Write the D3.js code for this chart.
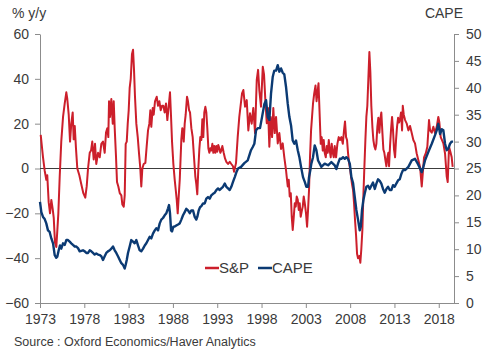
<!DOCTYPE html>
<html>
<head>
<meta charset="utf-8">
<script src="https://cdn.jsdelivr.net/npm/d3@7"></script>
<style>
  html, body { margin: 0; padding: 0; background: #fff; }
  svg { display: block; font-family: "Liberation Sans", Arial, sans-serif; }
</style>
</head>
<body>
<svg id="chart" width="500" height="356"></svg>
<script>
// ---- Data (decimal year, value) ----
const spDates = [1973.08,1973.34,1973.53,1973.71,1973.82,1973.98,1974.13,1974.28,1974.43,1974.55,1974.69,1974.84,1974.95,1975.07,1975.22,1975.40,1975.60,1975.79,1975.97,1976.08,1976.24,1976.39,1976.53,1976.69,1976.80,1976.92,1977.06,1977.21,1977.44,1977.66,1977.89,1978.11,1978.27,1978.42,1978.61,1978.76,1978.90,1979.06,1979.21,1979.35,1979.55,1979.74,1979.92,1980.11,1980.30,1980.45,1980.60,1980.71,1980.79,1980.90,1981.05,1981.21,1981.32,1981.43,1981.58,1981.69,1981.84,1982.00,1982.18,1982.29,1982.45,1982.56,1982.67,1982.79,1982.90,1983.01,1983.12,1983.24,1983.38,1983.50,1983.61,1983.72,1983.87,1984.03,1984.17,1984.32,1984.43,1984.55,1984.70,1984.89,1985.04,1985.19,1985.34,1985.45,1985.56,1985.72,1985.83,1985.98,1986.17,1986.32,1986.47,1986.62,1986.77,1986.92,1987.07,1987.22,1987.37,1987.53,1987.67,1987.79,1987.90,1988.05,1988.20,1988.32,1988.43,1988.54,1988.66,1988.77,1988.95,1989.06,1989.22,1989.33,1989.44,1989.59,1989.70,1989.82,1989.93,1990.08,1990.23,1990.38,1990.53,1990.64,1990.75,1990.87,1990.98,1991.09,1991.21,1991.32,1991.43,1991.54,1991.66,1991.77,1991.88,1992.00,1992.11,1992.22,1992.33,1992.45,1992.56,1992.67,1992.79,1992.90,1993.01,1993.12,1993.24,1993.35,1993.46,1993.58,1993.73,1993.88,1994.03,1994.22,1994.41,1994.59,1994.78,1994.90,1995.01,1995.12,1995.31,1995.49,1995.80,1995.95,1996.14,1996.33,1996.51,1996.70,1996.89,1997.07,1997.27,1997.46,1997.61,1997.75,1997.94,1998.14,1998.28,1998.43,1998.59,1998.73,1998.88,1999.04,1999.19,1999.33,1999.49,1999.64,1999.83,2000.01,2000.20,2000.39,2000.57,2000.77,2000.84,2000.96,2001.07,2001.18,2001.30,2001.41,2001.52,2001.64,2001.75,2001.86,2001.97,2002.09,2002.20,2002.31,2002.42,2002.54,2002.65,2002.76,2002.88,2003.02,2003.14,2003.25,2003.36,2003.47,2003.59,2003.70,2003.81,2003.93,2004.09,2004.21,2004.32,2004.43,2004.55,2004.68,2004.79,2004.91,2005.02,2005.13,2005.25,2005.36,2005.47,2005.59,2005.70,2005.81,2005.92,2006.04,2006.15,2006.26,2006.41,2006.56,2006.71,2006.86,2007.01,2007.17,2007.31,2007.42,2007.54,2007.65,2007.76,2007.88,2007.99,2008.10,2008.21,2008.33,2008.44,2008.55,2008.67,2008.78,2008.89,2009.04,2009.15,2009.26,2009.38,2009.49,2009.60,2009.72,2009.83,2009.94,2010.05,2010.17,2010.28,2010.39,2010.51,2010.62,2010.73,2010.85,2010.96,2011.07,2011.18,2011.30,2011.41,2011.52,2011.64,2011.75,2011.86,2011.97,2012.09,2012.20,2012.31,2012.39,2012.50,2012.61,2012.73,2012.84,2012.95,2013.07,2013.18,2013.29,2013.41,2013.52,2013.63,2013.74,2013.86,2013.94,2014.05,2014.20,2014.39,2014.57,2014.76,2014.95,2015.13,2015.32,2015.51,2015.70,2015.89,2016.08,2016.20,2016.34,2016.53,2016.71,2016.90,2017.02,2017.21,2017.39,2017.58,2017.77,2017.95,2018.06,2018.22,2018.33,2018.52,2018.71,2018.90,2019.01,2019.16,2019.31,2019.46,2019.57];
const spValues = [15,5,-1,-5,-3,-15,-20,-14,-18,-22,-33,-35,-28,-20,-4,12,23,29,34,31,24,12,20,25,13,19,9,0,-3,-7,-11,-13,-8,0,7,8,12,4,11,2,7,5,11,12,7,16,18,14,30,23,31,20,30,18,5,-6,-8,-11,-12,-16,-17,-12,11,12,20,26,36,40,51,53,44,32,20,14,7,0,-8,0,2,2.5,10,17,20,26,18.6,27,24,30,32,28,30,26,28,28,25,29,21.6,28,34,23,12,2,-5,-9.6,-14,-20,-12,-5,13,18,12,20,24,32,30,26,25,18,14,5,-3.6,-7,-11.5,0,8.5,14,12.7,22,14,25,27.5,25,18,9,7,9,8,11,7,10,7,10,7.5,10.5,9,7,8,10,7,4.5,3,2,3,2,1,-1.5,0.5,2.4,14,23,33.5,35,27.6,30.5,17,24.6,20,27,15.8,39.5,44,35,27.6,45.4,42,30.5,20.2,27,9.7,23,14,27,15.8,23,11.2,15.8,8.7,11.2,5,-1,-3.6,-8,-5,-12.5,-11,-21.5,-27.4,-21.5,-15.5,-17,-12.5,-14,-18.5,-15.5,-21.5,-19,-17,-12.5,-15.5,-20,-26,-18.5,-9.6,5,17,23,29,33,37,30,34,38,25,11,14,8,12.7,7,5,10,7,12.7,8,5,11,7,5,10,5,11,14,12.7,14,11,17,21,14,12.7,7,2.4,0,-3.6,-7,-9.6,-15.5,-23,-30,-38,-40,-39,-42,-36,-27.4,-12.5,0,12.7,23,28,39.5,52,43,28,18.6,12.7,10,8.5,11,18.6,22.6,16,22,25,16,8.5,7,4,1,5,7,1,10,17,23,17,8.5,5,12.7,18.6,22.6,20.5,22,25,17,28,24,21.6,20,17,19,15.8,12.7,11.2,6.7,3.7,0.7,-8,-2,5,6.7,9.7,21.6,17,16,18.6,15.8,18.6,23,20.8,14,13,11.2,6.7,-3.6,-6,9.7,7.5,5,0.7];

const capeDates = [1973.00,1973.15,1973.34,1973.53,1973.71,1973.90,1974.09,1974.28,1974.47,1974.66,1974.84,1974.95,1975.11,1975.26,1975.40,1975.60,1975.79,1975.97,1976.16,1976.35,1976.53,1976.72,1976.92,1977.10,1977.29,1977.48,1977.66,1977.85,1978.05,1978.23,1978.42,1978.61,1978.79,1978.98,1979.17,1979.35,1979.55,1979.74,1979.92,1980.11,1980.30,1980.48,1980.67,1980.87,1981.05,1981.24,1981.43,1981.61,1981.80,1982.00,1982.18,1982.37,1982.56,1982.67,1982.79,1982.93,1983.12,1983.30,1983.50,1983.69,1983.87,1984.06,1984.25,1984.43,1984.63,1984.82,1985.00,1985.19,1985.38,1985.56,1985.75,1985.95,1986.13,1986.32,1986.51,1986.69,1986.88,1987.07,1987.26,1987.45,1987.56,1987.67,1987.79,1987.90,1988.05,1988.20,1988.38,1988.58,1988.77,1988.95,1989.14,1989.33,1989.51,1989.70,1989.90,1990.08,1990.27,1990.46,1990.64,1990.75,1990.91,1991.06,1991.21,1991.40,1991.59,1991.77,1991.96,1992.15,1992.33,1992.53,1992.72,1992.90,1993.09,1993.28,1993.46,1993.65,1993.85,1994.03,1994.22,1994.41,1994.59,1994.78,1994.98,1995.16,1995.35,1995.69,1996.06,1996.44,1996.81,1997.01,1997.19,1997.38,1997.57,1997.83,1998.06,1998.32,1998.51,1998.70,1998.88,1999.07,1999.26,1999.44,1999.64,1999.83,2000.01,2000.20,2000.39,2000.57,2000.77,2000.96,2001.14,2001.33,2001.52,2001.70,2001.89,2002.09,2002.26,2002.46,2002.68,2002.88,2003.06,2003.25,2003.36,2003.51,2003.62,2003.81,2004.00,2004.19,2004.38,2004.57,2004.75,2005.13,2005.51,2005.88,2006.26,2006.44,2006.63,2006.83,2007.01,2007.20,2007.39,2007.57,2007.76,2007.96,2008.14,2008.33,2008.52,2008.70,2008.89,2009.08,2009.20,2009.34,2009.49,2009.65,2009.83,2010.02,2010.21,2010.39,2010.58,2010.78,2010.96,2011.15,2011.34,2011.52,2011.71,2011.90,2012.09,2012.28,2012.47,2012.65,2012.84,2013.03,2013.21,2013.41,2013.60,2013.78,2013.97,2014.20,2014.57,2014.95,2015.32,2015.63,2015.89,2016.08,2016.26,2016.45,2016.83,2017.21,2017.58,2017.77,2017.95,2018.15,2018.34,2018.52,2018.71,2018.90,2019.08,2019.27,2019.46,2019.62];
const capeValues = [18.8,16.9,16.0,15.6,14.8,13.5,13.2,12.0,11.1,8.9,8.4,8.6,9.8,10.7,10.1,11.1,10.8,11.7,11.7,11.4,11.1,10.8,10.5,10.5,10.2,9.6,9.7,9.8,9.6,9.3,9.3,9.8,9.6,9.3,9.0,9.2,9.0,8.9,8.7,8.0,8.7,9.3,9.6,9.8,10.1,10.5,9.8,9.3,8.7,8.0,7.4,7.1,6.4,7.1,8.0,9.3,10.5,11.7,11.4,11.1,11.7,10.7,9.8,9.6,10.1,10.7,11.1,11.7,12.3,12.0,12.9,13.5,13.9,13.5,14.8,15.5,15.8,16.3,16.7,17.6,18.2,16.7,13.5,13.3,14.2,14.2,14.4,14.6,14.8,15.5,16.3,16.9,17.5,17.2,16.7,17.2,17.2,16.0,15.5,16.0,17.2,17.8,18.0,18.5,18.5,19.4,19.7,19.4,20.0,20.3,20.5,21.0,21.3,21.0,21.3,21.6,22.2,21.6,21.3,21.0,21.6,22.5,23.4,24.3,25.0,25.3,26.0,26.5,28.4,29.0,29.6,32.1,32.5,32.5,34.6,37.0,37.7,34.6,34.0,38.9,42.0,43.2,43.2,44.2,43.0,43.6,42.8,42.5,40.1,37.0,34.6,33.0,30.2,29.6,30.2,28.4,27.2,25.3,23.4,22.5,21.6,21.6,23.4,24.7,25.9,27.1,29.3,28.4,26.5,25.9,25.3,25.9,25.6,26.2,25.6,24.9,25.9,26.8,26.8,27.1,26.8,27.1,26.8,25.9,23.4,22.3,19.7,17.3,15.5,13.5,14.2,17.3,19.1,20.4,21.6,21.8,21.2,21.8,22.4,21.2,22.2,23.0,22.7,22.2,21.2,20.5,21.2,21.6,21.0,21.0,21.9,21.6,22.2,22.8,23.0,24.0,24.7,24.7,25.3,26.5,26.8,25.9,25.0,24.3,25.3,26.5,28.1,29.6,31.2,32.1,33.3,31.4,32.3,32.1,29.6,28.4,28.7,29.6,30.0,30.0];

const xTicks = [1973,1978,1983,1988,1993,1998,2003,2008,2013,2018];
const leftTicks = [-60,-40,-20,0,20,40,60];
const rightTicks = [0,5,10,15,20,25,30,35,40,45,50];
const seriesNames = ["S&P", "CAPE"];
const seriesColors = ["#cc1f2b", "#0b3a73"];

// ---- Layout ----
const svg = d3.select("#chart");
const L = 40, R = 454, T = 34, B = 303;
const textColor = "#3a3a3a";
const axisColor = "#8c8c8c";

const x = d3.scaleLinear().domain([1973, 2019.72]).range([L, R]);
const yL = d3.scaleLinear().domain([-60, 60]).range([B, T]);
const yR = d3.scaleLinear().domain([0, 50]).range([B, T]);

function styleAxis(g) {
  g.selectAll(".domain").attr("stroke", axisColor).attr("stroke-width", 1);
  g.selectAll(".tick line").attr("stroke", axisColor);
  g.selectAll(".tick text").attr("fill", textColor).style("font-size", "14px")
    .style("font-family", '"Liberation Sans", Arial, sans-serif');
}

svg.append("g").attr("transform", `translate(${L},0)`)
  .call(d3.axisLeft(yL).tickValues(leftTicks).tickSize(5).tickSizeOuter(0).tickPadding(6))
  .call(styleAxis);

svg.append("g").attr("transform", `translate(${R},0)`)
  .call(d3.axisRight(yR).tickValues(rightTicks).tickSize(5).tickSizeOuter(0).tickPadding(7))
  .call(styleAxis);

svg.append("g").attr("transform", `translate(0,${B})`)
  .call(d3.axisBottom(x).tickValues(xTicks).tickFormat(d3.format("d")).tickSize(5).tickSizeOuter(0).tickPadding(6))
  .call(styleAxis);

// zero line
svg.append("line")
  .attr("x1", L).attr("x2", R).attr("y1", yL(0)).attr("y2", yL(0))
  .attr("stroke", "#3c3c3c").attr("stroke-width", 1);

// series
const sp = spDates.map((d, i) => [d, spValues[i]]);
const cape = capeDates.map((d, i) => [d, capeValues[i]]);

svg.append("path").datum(sp)
  .attr("fill", "none").attr("stroke", seriesColors[0]).attr("stroke-width", 2)
  .attr("stroke-linejoin", "round")
  .attr("d", d3.line().x(d => x(d[0])).y(d => yL(d[1])));

svg.append("path").datum(cape)
  .attr("fill", "none").attr("stroke", seriesColors[1]).attr("stroke-width", 2.4)
  .attr("stroke-linejoin", "round")
  .attr("d", d3.line().x(d => x(d[0])).y(d => yR(d[1])));

// axis titles
svg.append("text").attr("x", 12).attr("y", 18).attr("fill", textColor)
  .style("font-size", "14px").text("% y/y");
svg.append("text").attr("x", 463).attr("y", 18).attr("fill", textColor)
  .attr("text-anchor", "end").style("font-size", "14px").text("CAPE");

// legend
const legend = [{x: 205, i: 0}, {x: 258, i: 1}];
legend.forEach(l => {
  svg.append("line").attr("x1", l.x).attr("x2", l.x + 14)
    .attr("y1", 268).attr("y2", 268)
    .attr("stroke", seriesColors[l.i]).attr("stroke-width", 2.5);
  svg.append("text").attr("x", l.x + 14).attr("y", 273).attr("fill", textColor)
    .style("font-size", "15px").text(seriesNames[l.i]);
});

// source
svg.append("text").attr("x", 14).attr("y", 346).attr("fill", textColor)
  .style("font-size", "12.5px").text("Source : Oxford Economics/Haver Analytics");
</script>
</body>
</html>
